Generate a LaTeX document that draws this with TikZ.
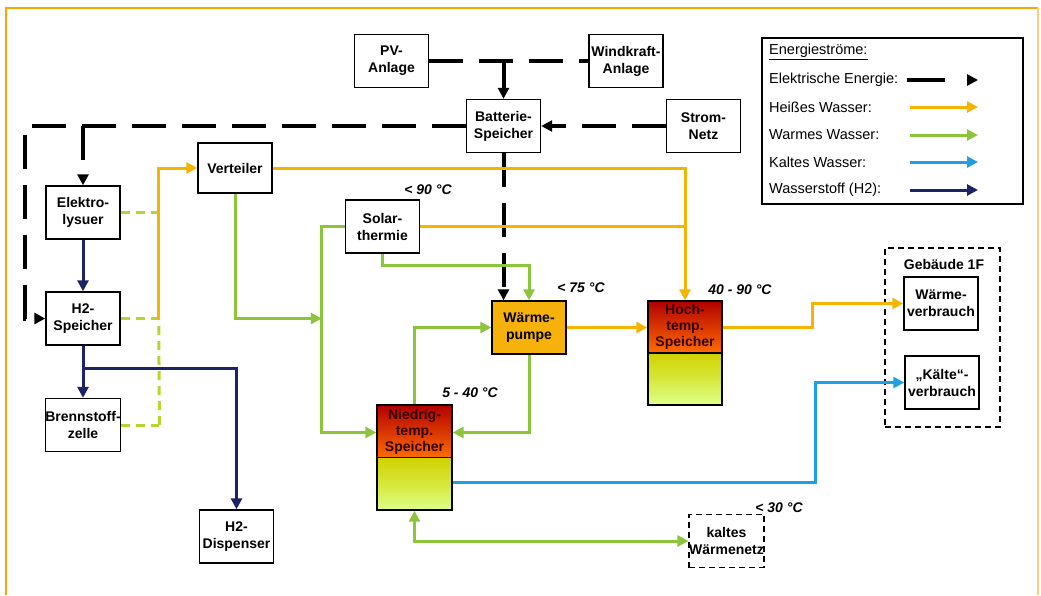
\documentclass[tikz,border=0pt]{standalone}
\usepackage{fontspec}
\setmainfont{Liberation Sans}
\usetikzlibrary{arrows.meta,calc}
\definecolor{hotc}{HTML}{F4B400}
\definecolor{warmc}{HTML}{8CC43C}
\definecolor{coldc}{HTML}{1E9FE6}
\definecolor{hydc}{HTML}{1C2466}
\definecolor{framec}{HTML}{F5A800}
\definecolor{framer}{HTML}{F8CC80}
\definecolor{wpc}{HTML}{F6B10A}
\definecolor{dashgc}{HTML}{B8D432}
\begin{document}
\begin{tikzpicture}[x=1pt,y=-1pt,
 box/.style={draw,line width=1.4pt,fill=white,minimum width=74pt,minimum height=53pt,inner sep=0pt,align=center,font=\fontsize{14}{17}\selectfont\bfseries},
 dbox/.style={box,fill=none,dash pattern=on 6pt off 4pt},
 lbl/.style={font=\fontsize{14}{17}\selectfont\bfseries\itshape},
 ltxt/.style={anchor=west,font=\fontsize{14.5}{17}\selectfont,inner sep=0pt},
 tip/.style={-{Triangle[length=11pt,width=11pt]}},
 elec/.style={line width=4pt,dash pattern=on 34pt off 16pt},
 hot/.style={line width=3pt,draw=hotc,color=hotc},
 warm/.style={line width=3pt,draw=warmc,color=warmc},
 cold/.style={line width=3pt,draw=coldc,color=coldc},
 hyd/.style={line width=3pt,draw=hydc,color=hydc},
 gdash/.style={line width=3pt,draw=dashgc,dash pattern=on 9pt off 6pt},
]
\useasboundingbox (0,0) rectangle (1041,595);
\fill[white] (0,0) rectangle (1041,595);
% frame
\draw[framec,line width=2pt] (6,595) -- (6,8) -- (1038,8);
\draw[framer,line width=2pt] (1038,8) -- (1038,595);

% storages (shading)
\shade[top color=red!70!black,bottom color=orange!85!red] (377,405) rectangle (452,458);
\shade[top color=yellow!60!olive!90,bottom color=yellow!70!green!45!white] (377,458) rectangle (452,510);
\shade[top color=red!70!black,bottom color=orange!85!red] (648,301) rectangle (722,353);
\shade[top color=yellow!60!olive!90,bottom color=yellow!70!green!45!white] (648,353) rectangle (722,405);

% nodes
\node[box] (PV) at (391.5,61) {PV-\\Anlage};
\node[box] (Wind) at (626,61) {Windkraft-\\Anlage};
\node[box] (Batt) at (503.5,126) {Batterie-\\Speicher};
\node[box] (Netz) at (703.5,126) {Strom-\\Netz};
\node[box] (Elek) at (83,212.5) {Elektro-\\lysuer};
\node[box,minimum height=50pt] (Vert) at (235,168) {Verteiler};
\node[box] (Solar) at (382.5,226.5) {Solar-\\thermie};
\node[box] (H2S) at (83,318.5) {H2-\\Speicher};
\node[box] (BZ) at (83,425) {Brennstoff-\\zelle};
\node[box] (Disp) at (236.5,536.5) {H2-\\Dispenser};
\node[box,fill=wpc] (WP) at (529,327.5) {Wärme-\\pumpe};
\node[box,fill=none,minimum width=75pt,minimum height=105pt] (NT) at (414.5,457.5) {};
\draw[line width=1.4pt] (NT.west) -- (NT.east);
\node[font=\fontsize{14}{16}\selectfont\bfseries,align=center,text=black!80!red] (NTt) at (414.5,431.5) {Niedrig-\\temp.\\Speicher};
\node[box,fill=none,minimum width=74pt,minimum height=104pt] (HT) at (685,353) {};
\draw[line width=1.4pt] (HT.west) -- (HT.east);
\node[font=\fontsize{14}{16}\selectfont\bfseries,align=center,text=black!80!red] (HTt) at (685,327) {Hoch-\\temp.\\Speicher};
\node[draw,line width=1.4pt,dash pattern=on 6pt off 4pt,minimum width=115pt,minimum height=179pt] (Geb) at (942.5,337.5) {};
\node[font=\fontsize{14}{17}\selectfont\bfseries] (GebT) at (944,264) {Gebäude 1F};
\node[box] (WV) at (941,303.5) {Wärme-\\verbrauch};
\node[box] (KV) at (942,382.5) {„Kälte“-\\verbrauch};
\node[dbox] (KW) at (726.5,541) {kaltes\\Wärmenetz};

% temperature labels
\node[lbl] (t90) at (428,190) {< 90 °C};
\node[lbl] (t75) at (581,288) {< 75 °C};
\node[lbl] (t4090) at (740,290) {40 - 90 °C};
\node[lbl] (t540) at (470,393) {5 - 40 °C};
\node[lbl] (t30) at (779,508) {< 30 °C};

% electric
\coordinate (ej) at (Batt.north |- PV.east);
\draw[elec] (PV.east) -- (Wind.west);
\draw[elec,tip] (ej) -- (Batt.north);
\draw[elec,tip] (Netz.west) -- (Batt.east);
\draw[elec,tip] (Batt.west) -- ++(-441,0) |- (H2S.west);
\draw[elec,tip] (Elek.north |- Batt.west) -- (Elek.north);
\draw[elec,tip] (Batt.south) -- (Batt.south |- WP.north);

% hydrogen
\draw[hyd,tip] (Elek.south) -- (H2S.north);
\draw[hyd,tip] (H2S.south) -- (BZ.north);
\coordinate (hj) at ($(H2S.south)+(0,23)$);
\draw[hyd,tip] (hj) -| (Disp.north);

% dashed supply lines
\draw[gdash] (Elek.east) -- ++(38,0);
\draw[gdash] (H2S.east) -- ++(38,0);
\draw[gdash] (BZ.east) -- ++(38,0);
\draw[gdash] ($(BZ.east)+(38,0)$) -- ($(H2S.east)+(38,0)$);
\draw[hot,tip] ($(H2S.east)+(38,0)$) |- (Vert.west);

% hot water
\draw[hot,tip] (Vert.east) -| (HT.north);
\draw[hot] (Solar.east) -- (Solar.east -| HT.north);
\draw[hot,tip] (WP.east) -- (WP.east -| HT.west);
\draw[hot,tip] (HT.east |- WP.east) -- ++(90,0) |- (WV.west);

% warm water
\coordinate (gv) at ($(Solar.west)+(-23,0)$);
\coordinate (gjoin) at (gv |- H2S.east);
\draw[warm,tip] (Vert.south) |- (gjoin);
\draw[warm,tip] (Solar.west) -- (gv) |- ($(NT.west)+(0,-25)$);
\draw[warm,tip] (Solar.south) -- ++(0,12) -| (WP.north);
\draw[warm,tip] (NT.north) |- (WP.west);
\draw[warm,tip] (WP.south) |- ($(NT.east)+(0,-25)$);
\draw[warm,{Triangle[length=11pt,width=11pt]}-{Triangle[length=11pt,width=11pt]}] (NT.south) |- (KW.west);

% cold water
\draw[cold,tip] ($(NT.east)+(0,25)$) -- ++(363,0) |- (KV.west);

% legend
\node[draw,line width=1.2pt,minimum width=261pt,minimum height=166pt] (Leg) at (892.5,121) {};
\node[ltxt] (L0) at (769,52) {\underline{Energieströme:}};
\node[ltxt] (L1) at (769,80) {Elektrische Energie:};
\node[ltxt] (L2) at (769,107) {Heißes Wasser:};
\node[ltxt] (L3) at (769,135) {Warmes Wasser:};
\node[ltxt] (L4) at (769,162) {Kaltes Wasser:};
\node[ltxt] (L5) at (769,190) {Wasserstoff (H2):};
\coordinate (a1) at (907,80); \coordinate (b1) at (978,80);
\coordinate (a2) at (910,107); \coordinate (b2) at (978,107);
\coordinate (a3) at (910,135); \coordinate (b3) at (978,135);
\coordinate (a4) at (910,162); \coordinate (b4) at (978,162);
\coordinate (a5) at (910,190); \coordinate (b5) at (978,190);
\draw[line width=4pt,dash pattern=on 38pt off 30pt,tip] (a1) -- (b1);
\draw[hot,tip] (a2) -- (b2);
\draw[warm,tip] (a3) -- (b3);
\draw[cold,tip] (a4) -- (b4);
\draw[hyd,tip] (a5) -- (b5);
\end{tikzpicture}
\end{document}
